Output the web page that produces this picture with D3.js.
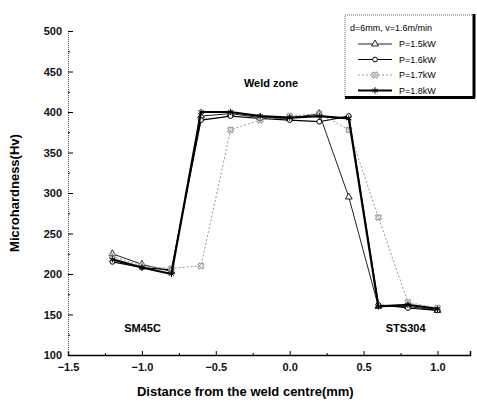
<!DOCTYPE html>
<html>
<head>
<meta charset="utf-8">
<script src="https://cdn.jsdelivr.net/npm/d3@7"></script>
<style>
body{margin:0;background:#fff;}
text{font-family:"Liberation Sans",Arial,sans-serif;}
</style>
</head>
<body>
<div id="chart"></div>
<script>
var W = 477, H = 405;
var margin = {top: 31, right: 7, bottom: 50, left: 68};

// distance from weld centre (mm)
var distance = [-1.2, -1.0, -0.8, -0.6, -0.4, -0.2, 0.0, 0.2, 0.4, 0.6, 0.8, 1.0];
var hv15 = [225, 212, 203, 395, 398, 393, 392, 398, 295, 160, 160, 155];
var hv16 = [215, 208, 205, 390, 395, 392, 390, 388, 395, 162, 158, 155];
var hv17 = [222, 210, 207, 210, 378, 390, 395, 398, 378, 270, 165, 158];
var hv18 = [218, 208, 200, 400, 400, 395, 393, 395, 392, 160, 162, 157];
var seriesNames = ["P=1.5kW", "P=1.6kW", "P=1.7kW", "P=1.8kW"];
var xTicks = [-1.5, -1.0, -0.5, 0.0, 0.5, 1.0];
var yTicks = [100, 150, 200, 250, 300, 350, 400, 450, 500];

var series = [
  {name: seriesNames[0], vals: hv15, stroke: "#222", width: 1, dash: null, mark: "tri"},
  {name: seriesNames[1], vals: hv16, stroke: "#000", width: 1.2, dash: null, mark: "circ"},
  {name: seriesNames[2], vals: hv17, stroke: "#999", width: 1, dash: "2,2", mark: "x"},
  {name: seriesNames[3], vals: hv18, stroke: "#000", width: 2.2, dash: null, mark: "star"}
];

var svg = d3.select("#chart").append("svg").attr("width", W).attr("height", H);

var x = d3.scaleLinear().domain([-1.5, 1.22]).range([margin.left, W - margin.right]);
var y = d3.scaleLinear().domain([100, 500]).range([H - margin.bottom, margin.top]);

// axes
var xAxis = svg.append("g").attr("transform", "translate(0," + y(100) + ")")
  .call(d3.axisBottom(x).tickValues(xTicks).tickSize(-4).tickPadding(8).tickFormat(d3.format(".1f")));
var yAxis = svg.append("g").attr("transform", "translate(" + x(-1.5) + ",0)")
  .call(d3.axisLeft(y).tickValues(yTicks).tickSize(-5).tickPadding(6));

// minor ticks
svg.append("g").attr("transform", "translate(0," + y(100) + ")")
  .call(d3.axisBottom(x).tickValues(d3.range(-1.25, 1.2, 0.5)).tickSize(-2).tickFormat(""))
  .select(".domain").remove();
svg.append("g").attr("transform", "translate(" + x(-1.5) + ",0)")
  .call(d3.axisLeft(y).tickValues(d3.range(125, 500, 50)).tickSize(-2).tickFormat(""))
  .select(".domain").remove();

svg.selectAll(".tick text").attr("font-size", 11).attr("font-weight", "bold").attr("fill", "#111");
xAxis.select(".domain").attr("stroke-width", 1.5);
yAxis.select(".domain").attr("stroke", "#555").attr("stroke-dasharray", "1,1");

// axis titles
svg.append("text").attr("x", x(-0.3)).attr("y", H - 9).attr("text-anchor", "middle")
  .attr("font-size", 13).attr("font-weight", "bold").text("Distance from the weld centre(mm)");
svg.append("text").attr("transform", "translate(19," + y(300) + ") rotate(-90)")
  .attr("text-anchor", "middle").attr("font-size", 13).attr("font-weight", "bold")
  .text("Microhardness(Hv)");

// annotations
svg.append("text").attr("x", x(-0.31)).attr("y", y(431)).attr("font-size", 11).attr("font-weight", "bold").text("Weld zone");
svg.append("text").attr("x", x(-1.12)).attr("y", y(129)).attr("font-size", 11).attr("font-weight", "bold").text("SM45C");
svg.append("text").attr("x", x(0.65)).attr("y", y(129)).attr("font-size", 11).attr("font-weight", "bold").text("STS304");

function drawMark(g, type, cx, cy, color) {
  if (type === "tri") {
    g.append("path").attr("d", d3.symbol().type(d3.symbolTriangle).size(20)())
      .attr("transform", "translate(" + cx + "," + cy + ")").attr("fill", "#fff").attr("stroke", color);
  } else if (type === "circ") {
    g.append("circle").attr("cx", cx).attr("cy", cy).attr("r", 2.4).attr("fill", "#fff").attr("stroke", color);
  } else if (type === "x") {
    g.append("path").attr("d", d3.symbol().type(d3.symbolCross).size(22)())
      .attr("transform", "translate(" + cx + "," + cy + ") rotate(45)").attr("fill", "none").attr("stroke", color);
  } else {
    g.append("path").attr("d", d3.symbol().type(d3.symbolAsterisk || d3.symbolStar).size(28)())
      .attr("transform", "translate(" + cx + "," + cy + ")").attr("fill", "none").attr("stroke", color);
  }
}

var line = d3.line().x(function(d, i) { return x(distance[i]); }).y(function(d) { return y(d); });

series.forEach(function(s) {
  var g = svg.append("g");
  g.append("path").datum(s.vals).attr("d", line).attr("fill", "none")
    .attr("stroke", s.stroke).attr("stroke-width", s.width).attr("stroke-dasharray", s.dash);
  s.vals.forEach(function(v, i) { drawMark(g, s.mark, x(distance[i]), y(v), s.stroke); });
});

// legend
var lg = svg.append("g");
lg.append("rect").attr("x", 345).attr("y", 15).attr("width", 129).attr("height", 82)
  .attr("fill", "#fff").attr("stroke", "#000").attr("stroke-width", 0.6).attr("stroke-dasharray", "1,1");
lg.append("line").attr("x1", 474).attr("y1", 14).attr("x2", 474).attr("y2", 98).attr("stroke", "#000").attr("stroke-width", 3);
lg.append("line").attr("x1", 345).attr("y1", 97.5).attr("x2", 475).attr("y2", 97.5).attr("stroke", "#000").attr("stroke-width", 3);
lg.append("text").attr("x", 350).attr("y", 31).attr("font-size", 9).text("d=6mm, v=1.6m/min");
series.forEach(function(s, i) {
  var yy = 44 + i * 15.5;
  lg.append("line").attr("x1", 358).attr("x2", 392).attr("y1", yy).attr("y2", yy)
    .attr("stroke", s.stroke).attr("stroke-width", s.width).attr("stroke-dasharray", s.dash);
  drawMark(lg, s.mark, 375, yy, s.stroke);
  lg.append("text").attr("x", 399).attr("y", yy + 3).attr("font-size", 9).text(s.name);
});
</script>
</body>
</html>
